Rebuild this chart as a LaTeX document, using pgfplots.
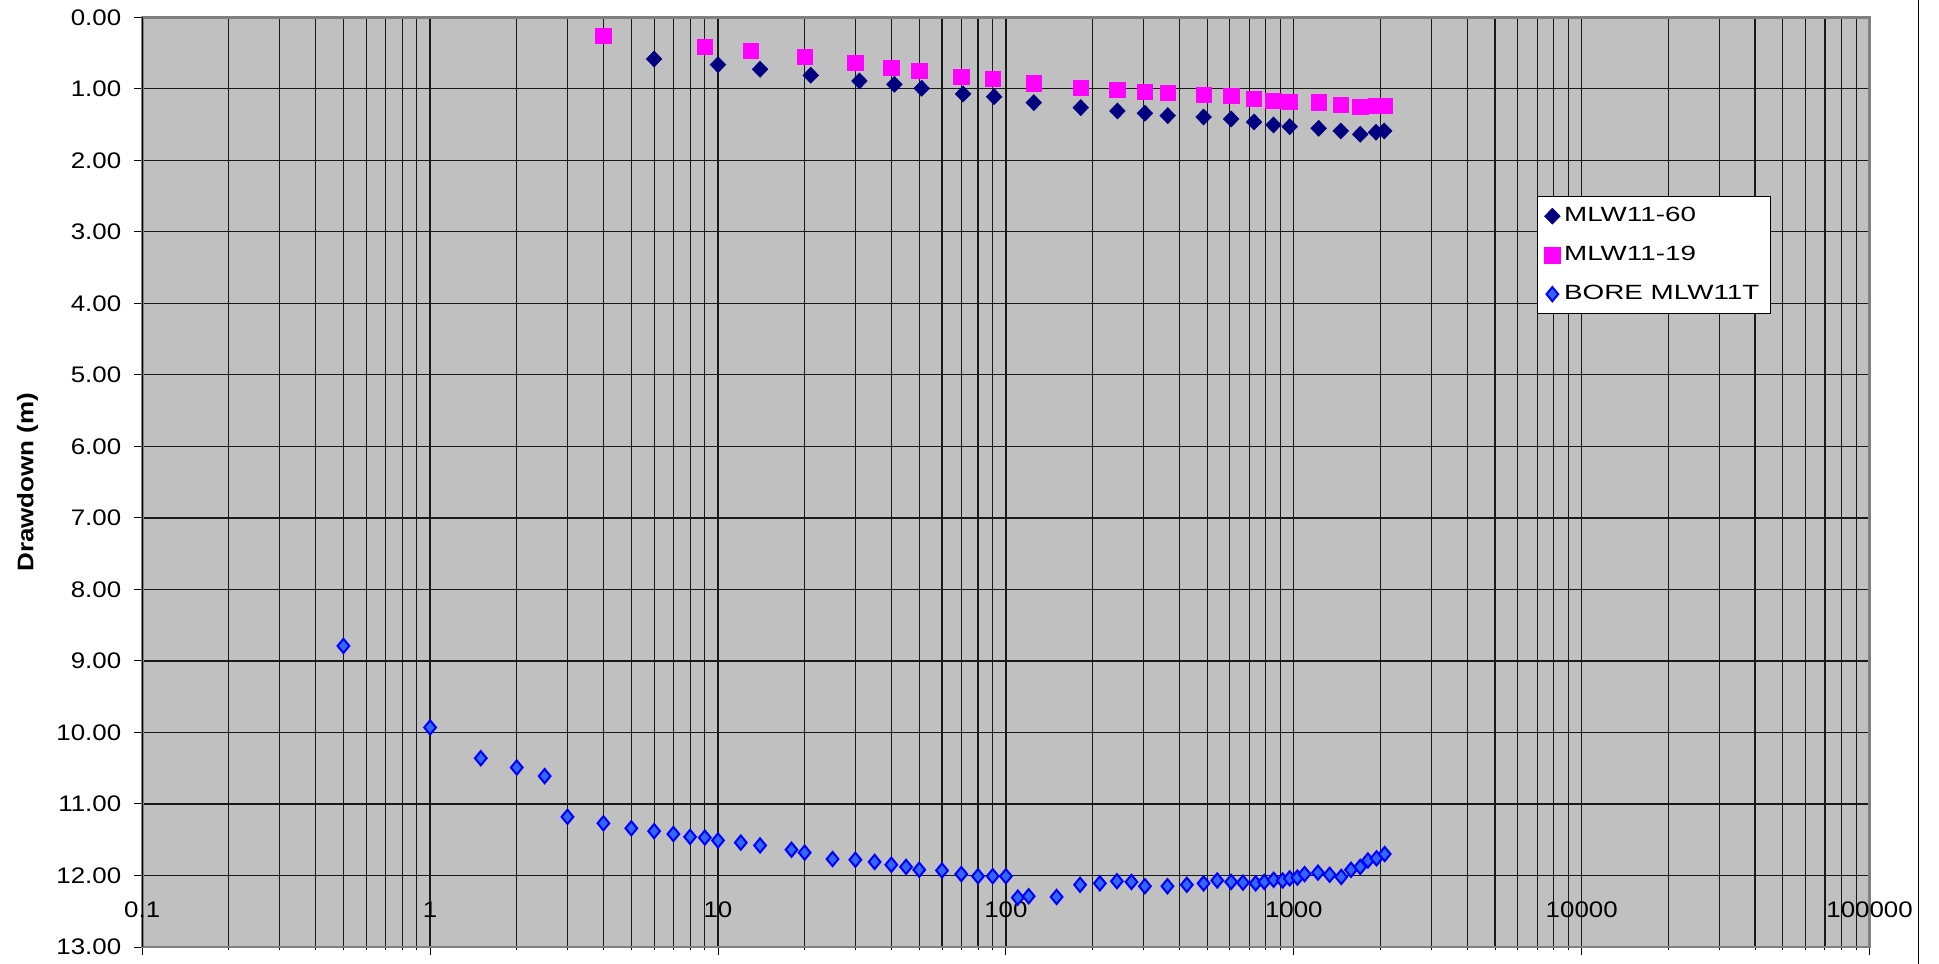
\documentclass[border=0pt]{standalone}
\usepackage{fontspec}
\setmainfont{Liberation Sans}[FakeStretch=1.15]
\newfontfamily\legendfont{Liberation Sans}[FakeStretch=1.35]
\usepackage{pgfplots}
\pgfplotsset{compat=1.18}
\definecolor{bg}{HTML}{C0C0C0}
\definecolor{navyc}{HTML}{000080}
\definecolor{pinkc}{HTML}{FF00FF}
\definecolor{borefill}{HTML}{3366FF}
\definecolor{boreedge}{HTML}{0000FF}
\begin{document}
\begin{tikzpicture}
\useasboundingbox (0,0) rectangle (969.5pt,482pt);
\begin{axis}[
  at={(71.1pt,8.5pt)}, anchor=south west,
  scale only axis, width=863.7pt, height=464.85pt,
  xmode=log, xmin=0.1, xmax=100000,
  ymin=0, ymax=13, y dir=reverse,
  ytick={0,1,2,3,4,5,6,7,8,9,10,11,12,13},
  xtick={0.1,1,10,100,1000,10000,100000},
  xticklabels={0.1,1,10,100,1000,10000,100000},
  minor xtick={0.2,0.3,0.4,0.5,0.6,0.7,0.8,0.9,2,3,4,5,6,7,8,9,20,30,40,50,60,70,80,90,200,300,400,500,600,700,800,900,2000,3000,4000,5000,6000,7000,8000,9000,20000,30000,40000,50000,60000,70000,80000,90000},
  yticklabel={\pgfmathprintnumber[fixed,fixed zerofill,precision=2]{\tick}},
  /pgf/number format/assume math mode=true,
  tick label style={font=\fontsize{11.25}{13}\selectfont},
  xticklabel style={anchor=center, yshift=22.8pt},
  yticklabel style={xshift=-3pt},
  tick pos=left, tick align=outside,
  major tick length=4pt, minor tick length=1.5pt,
  tick style={black, line width=0.5pt},
  xmajorgrids, xminorgrids, ymajorgrids,
  major grid style={black!90, line width=0.6pt},
  minor grid style={black!90, line width=0.55pt},
  axis background/.style={fill=bg},
  axis line style={draw=gray, line width=1.4pt},
  ylabel={Drawdown (m)},
  every axis y label/.style={at={(rel axis cs:0,0.5)}, xshift=-57.35pt, rotate=90, anchor=center,
     font=\bfseries\fontsize{11.3}{13}\selectfont},
  legend style={at={(rel axis cs:0.8075,0.8078)}, anchor=north west, draw=black, line width=0.5pt, fill=white,
     font=\legendfont\fontsize{10.3}{12}\selectfont, inner xsep=3.5pt, inner ysep=3.5pt, row sep=6.8pt},
  legend cell align=left,
  legend image code/.code={\draw[#1, only marks] plot coordinates {(0pt,0pt)};},
]
\addplot[only marks, mark=diamond*, mark size=4.0pt, mark options={xscale=1.3, draw=navyc, fill=navyc, line width=0.3pt}] coordinates {
(6,0.583)(10,0.662)(14,0.727)(21,0.811)(31,0.890)(41,0.937)(51,0.993)(71,1.072)(91,1.11)(125,1.193)(182,1.263)(244,1.31)(304,1.342)(365,1.375)(486,1.394)(606,1.422)(728,1.463)(850,1.505)(968,1.529)(1220,1.552)(1456,1.589)(1701,1.636)(1930,1.608)(2061,1.589)
};
\addlegendentry{MLW11-60}
\addplot[only marks, mark=square*, mark size=3.85pt, mark options={draw=pinkc, fill=pinkc, line width=0.3pt}] coordinates {
(4,0.257)(9,0.41)(13,0.47)(20,0.555)(30,0.639)(40,0.709)(50,0.746)(70,0.830)(90,0.858)(125,0.923)(182,0.984)(244,1.016)(304,1.04)(365,1.058)(486,1.082)(606,1.10)(728,1.142)(850,1.166)(968,1.184)(1220,1.19)(1456,1.226)(1701,1.254)(1930,1.235)(2061,1.235)
};
\addlegendentry{MLW11-19}
\addplot[only marks, mark=diamond*, mark size=3.55pt, mark options={xscale=1.1, draw=boreedge, fill=borefill, line width=1pt}] coordinates {
(0.5,8.79)(1,9.93)(1.5,10.36)(2,10.49)(2.5,10.61)(3,11.18)(4,11.27)(5,11.34)(6,11.38)(7,11.42)(8,11.46)(9,11.47)(10,11.51)(12,11.54)(14,11.58)(18,11.64)(20,11.68)(25,11.77)(30,11.78)(35,11.81)(40,11.85)(45,11.88)(50,11.92)(60,11.93)(70,11.98)(80,12.01)(90,12.01)(100,12.01)(110,12.31)(120,12.29)(150,12.30)(181,12.13)(212,12.11)(243,12.08)(273,12.09)(304,12.15)(364,12.15)(425,12.13)(486,12.11)(542,12.07)(606,12.09)(666,12.10)(737,12.11)(790,12.09)(851,12.06)(915,12.07)(968,12.04)(1029,12.03)(1090,11.98)(1213,11.96)(1332,11.99)(1462,12.02)(1580,11.92)(1701,11.88)(1809,11.79)(1938,11.76)(2069,11.70)
};
\addlegendentry{BORE MLW11T}
\draw[black, line width=0.6pt] (rel axis cs:0,0) -- (rel axis cs:0,1);
\end{axis}
\draw[black, line width=0.5pt] (959pt,0pt) -- (959pt,482pt);
\end{tikzpicture}
\end{document}
